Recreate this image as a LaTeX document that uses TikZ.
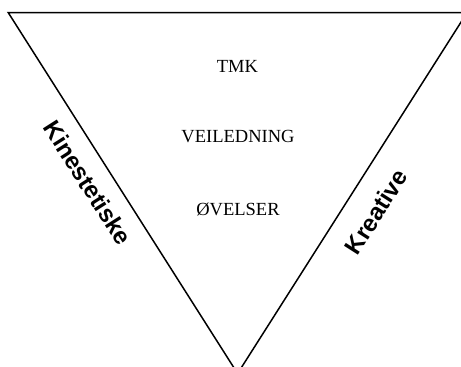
\documentclass[tikz,border=0pt]{standalone}
\usepackage{fontspec}
\setmainfont{Liberation Serif}
\setsansfont{Liberation Sans}
\begin{document}
\begin{tikzpicture}[x=1pt,y=-1pt,
  inner/.style={font=\fontsize{18.5}{20}\selectfont, inner sep=0pt},
  side/.style={font=\sffamily\bfseries\fontsize{24}{26}\selectfont, inner sep=0pt}]
\useasboundingbox (0,0) rectangle (461,367);
\clip (0,0) rectangle (461,367);
\coordinate (tl) at (8.3,12.7);
\coordinate (tr) at (467,12.7);
\coordinate (bt) at (237.6,373.5);
\draw[line width=1.5pt] (tl) -- (tr) -- (bt) -- cycle;
\node[inner] (tmk) at (237.5,66) {TMK};
\node[inner] (veil) at (238,137) {VEILEDNING};
\node[inner] (ovel) at (238,209) {ØVELSER};
\node[side, rotate=-57.5] (kin) at (88,183) {Kinestetiske};
\node[side, rotate=57.5] (kre) at (376,212) {Kreative};
\end{tikzpicture}
\end{document}
